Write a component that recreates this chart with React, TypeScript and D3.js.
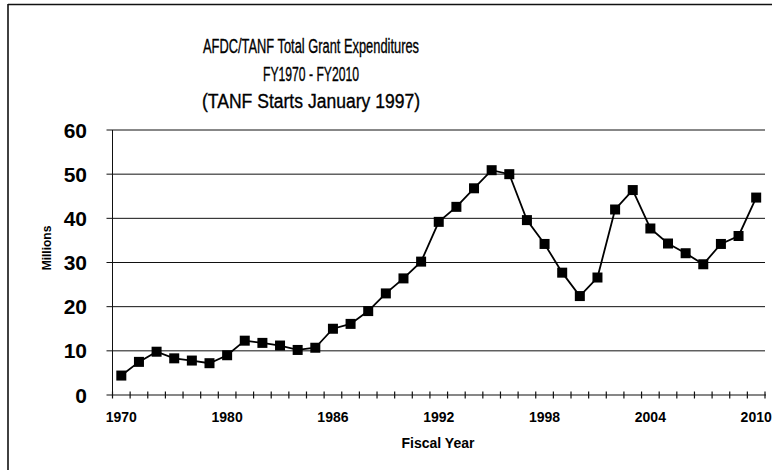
import React from "react";
import * as d3 from "d3";

const categories = [
  "1970", "1975", "1976", "1977", "1978", "1979", "1980", "1981", "1982", "1983",
  "1984", "1985", "1986", "1987", "1988", "1989", "1990", "1991", "1992", "1993",
  "1994", "1995", "1996", "1997", "1998", "1999", "2000", "2001", "2002", "2003",
  "2004", "2005", "2006", "2007", "2008", "2009", "2010",
];
const values = [
  4.4, 7.5, 9.8, 8.3, 7.8, 7.2, 9.0, 12.3, 11.8, 11.2,
  10.2, 10.7, 15.0, 16.1, 19.0, 23.0, 26.4, 30.2, 39.2, 42.6,
  46.8, 50.9, 50.0, 39.6, 34.2, 27.7, 22.4, 26.6, 42.0, 46.4,
  37.7, 34.3, 32.1, 29.6, 34.2, 36.0, 44.7,
];
const xTickLabels = ["1970", "1980", "1986", "1992", "1998", "2004", "2010"];
const yTicks = [0, 10, 20, 30, 40, 50, 60];
const titleLines = [
  "AFDC/TANF Total Grant Expenditures",
  "FY1970 - FY2010",
  "(TANF Starts January 1997)",
];
const titleWidths = [216, 96, 218];

const W = 772;
const H = 475;
const plotLeft = 112.5;
const plotRight = 765;
const plotTop = 130;
const plotBottom = 395;

export default function App() {
  const x = d3.scaleBand<string>().domain(categories).range([plotLeft, plotRight]).padding(0);
  const y = d3.scaleLinear().domain([0, 60]).range([plotBottom, plotTop]);
  const bw = x.bandwidth();
  const cx = (c: string) => (x(c) as number) + bw / 2;

  const line = d3
    .line<number>()
    .x((_, i) => cx(categories[i]))
    .y((d) => y(d));

  const boundaries = categories.map((c) => x(c) as number).concat([plotRight]);
  const font = "'Liberation Sans', Arial, sans-serif";

  return (
    <svg
      width={W}
      height={H}
      style={{ position: "absolute", left: 0, top: 0, background: "#fff" }}
      fontFamily={font}
    >
      <rect x={0} y={0} width={W} height={H} fill="#fff" />
      {/* frame */}
      <line x1={8} y1={4.5} x2={W} y2={4.5} stroke="#111" strokeWidth={1.6} />
      <line x1={8} y1={4} x2={8} y2={470} stroke="#111" strokeWidth={1.6} />

      {/* title */}
      {titleLines.map((t, i) => (
        <text
          key={t}
          x={311 - titleWidths[i] / 2}
          y={53 + i * 27.5}
          fontSize={20}
          fill="#000"
          stroke="#000"
          strokeWidth={0.35}
          textLength={titleWidths[i]}
          lengthAdjust="spacingAndGlyphs"
        >
          {t}
        </text>
      ))}

      {/* gridlines */}
      {yTicks.filter((v) => v > 0).map((v) => (
        <line key={v} x1={plotLeft - 6} x2={plotRight} y1={y(v)} y2={y(v)} stroke="#111" strokeWidth={1} />
      ))}
      {/* y axis */}
      <line x1={plotLeft} x2={plotLeft} y1={plotTop} y2={plotBottom} stroke="#111" strokeWidth={1} />
      {yTicks.map((v) => (
        <text
          key={"yl" + v}
          x={87}
          y={y(v)}
          dy="0.36em"
          textAnchor="end"
          fontSize={21}
          fontWeight="bold"
          fill="#000"
        >
          {v}
        </text>
      ))}
      {/* x axis */}
      <line x1={plotLeft - 6} x2={plotRight + 1} y1={plotBottom} y2={plotBottom} stroke="#111" strokeWidth={1.2} />
      {boundaries.map((b, i) => (
        <line key={"xt" + i} x1={b} x2={b} y1={plotBottom - 3.5} y2={plotBottom + 3.5} stroke="#111" strokeWidth={1.2} />
      ))}
      {xTickLabels.map((lab, i) => (
        <text
          key={"xl" + lab}
          x={cx(categories[i * 6])}
          y={422}
          textAnchor="middle"
          fontSize={14}
          fontWeight="bold"
          fill="#000"
        >
          {lab}
        </text>
      ))}
      <text x={438} y={448} textAnchor="middle" fontSize={14} fontWeight="bold" fill="#000">
        Fiscal Year
      </text>
      <text
        transform={`translate(51,248) rotate(-90)`}
        textAnchor="middle"
        fontSize={12}
        fontWeight="bold"
        fill="#000"
      >
        Millions
      </text>

      {/* series */}
      <path d={line(values) || ""} fill="none" stroke="#000" strokeWidth={1.8} />
      {values.map((v, i) => (
        <rect
          key={"m" + i}
          x={cx(categories[i]) - 5}
          y={y(v) - 5}
          width={10}
          height={10}
          fill="#000"
        />
      ))}
    </svg>
  );
}
